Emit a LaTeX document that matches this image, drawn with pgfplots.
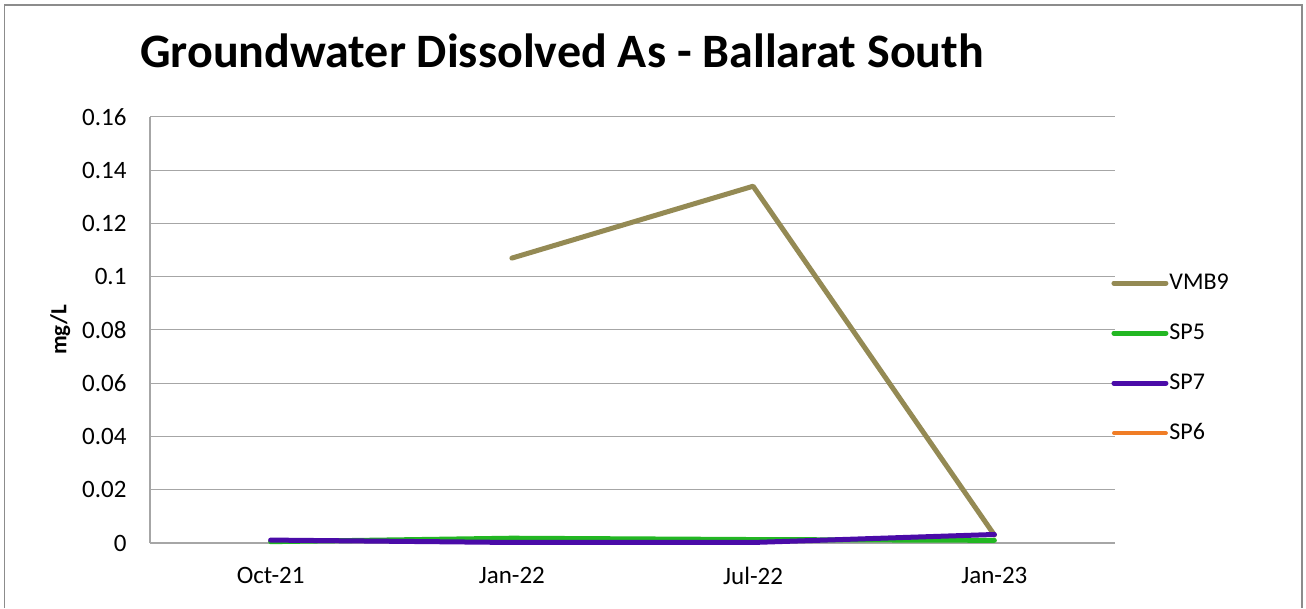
\documentclass[border=0pt]{standalone}
\usepackage{pgfplots}
\pgfplotsset{compat=1.18}
\usepackage{fontspec}
\setmainfont{Carlito}

\definecolor{cVMB}{HTML}{948A54}
\definecolor{cSP5}{HTML}{22B722}
\definecolor{cSP7}{HTML}{4A0BA8}
\definecolor{cSP6}{HTML}{F07D26}
\definecolor{gridgray}{HTML}{A6A6A6}
\definecolor{framegray}{HTML}{8C8C8C}

\begin{document}
\begin{tikzpicture}[x=1pt,y=1pt]
  % page extent and chart frame
  \path[use as bounding box] (0,0) rectangle (1306,608);
  \draw[framegray, line width=1.5pt] (4.5,0) -- (4.5,603) -- (1302,603) -- (1302,0);

  \node[anchor=base, font=\bfseries\fontsize{48}{48}\selectfont] at (562,540)
    {Groundwater Dissolved As - Ballarat South};

  \begin{axis}[
    at={(150pt,65pt)}, anchor=south west,
    scale only axis, width=965pt, height=426pt,
    xmin=-0.5, xmax=3.5, ymin=0, ymax=0.16,
    xtick={0,1,2,3},
    xticklabels={Oct-21,Jan-22,Jul-22,Jan-23},
    ytick={0,0.02,0.04,0.06,0.08,0.1,0.12,0.14,0.16},
    yticklabels={0,0.02,0.04,0.06,0.08,0.1,0.12,0.14,0.16},
    major tick length=0pt,
    ymajorgrids, grid style={gridgray, line width=1pt},
    axis line style={gridgray, line width=1.2pt},
    axis x line*=bottom, axis y line*=left,
    ticklabel style={font=\fontsize{25}{25}\selectfont, text=black},
    yticklabel style={xshift=-20pt},
    xticklabel style={yshift=-21pt},
    ylabel={mg/L},
    every axis y label/.style={at={(axis description cs:-0.093,0.5)}, rotate=90,
      anchor=center, font=\bfseries\fontsize{23}{23}\selectfont},
    legend image code/.code={\draw[#1, line cap=round] (0pt,0pt) -- (52pt,0pt);},
    legend style={draw=none, fill=none, at={(0.993,0.641)}, anchor=north west,
      font=\fontsize{24}{24}\selectfont, row sep=28pt,
      nodes={inner sep=1pt, text height=16pt, text depth=4pt},
      /tikz/every even column/.append style={column sep=2pt}},
    legend cell align=left,
    clip=false,
  ]
    \addplot[cVMB, line width=5pt, line cap=round, line join=round]
      coordinates {(1,0.107) (2,0.134) (3,0.003)};
    \addlegendentry{VMB9}
    \addplot[cSP5, line width=5pt, line cap=round, line join=round]
      coordinates {(0,0.0005) (1,0.0018) (2,0.0013) (3,0.001)};
    \addlegendentry{SP5}
    \addplot[cSP7, line width=5pt, line cap=round, line join=round]
      coordinates {(0,0.0011) (1,0.0002) (2,0.0002) (3,0.0032)};
    \addlegendentry{SP7}
    % SP6 has no readings in this period; it appears in the legend only
    \addlegendimage{cSP6, line width=3.8pt}
    \addlegendentry{SP6}
  \end{axis}
\end{tikzpicture}
\end{document}
